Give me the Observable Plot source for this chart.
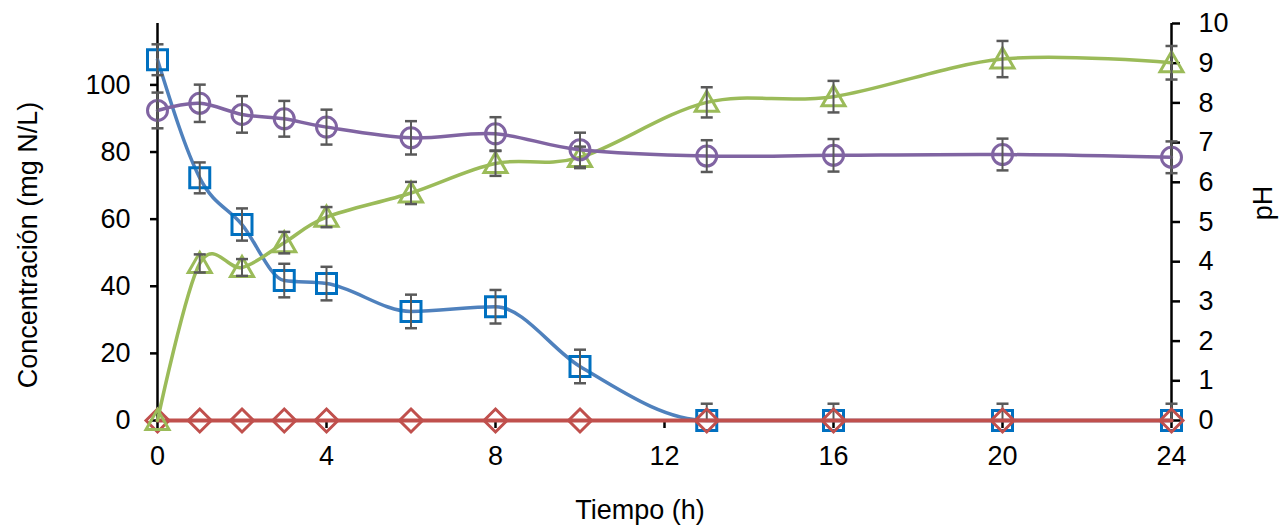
<!DOCTYPE html>
<html><head><meta charset="utf-8">
<script src="https://cdn.jsdelivr.net/npm/d3@7"></script>
<script src="https://cdn.jsdelivr.net/npm/@observablehq/plot@0.6"></script>
<style>body{margin:0;background:#fff}</style>
</head><body><div id="chart"></div>
<script>
// Time (h)
const hours = [0, 1, 2, 3, 4, 6, 8, 10, 13, 16, 20, 24];
// Blue squares (mg N/L)
const blueValues = [107.5, 72.3, 58.4, 41.7, 40.8, 32.5, 33.9, 16.1, 0, 0, 0, 0];
const blueErrors = [4.6, 4.6, 4.8, 5, 5, 5, 5, 5, 5, 5, 5, 5];
// Green triangles (mg N/L)
const greenValues = [0, 46.8, 45.6, 53, 60.6, 67.8, 76.6, 78.4, 94.8, 96.5, 107.7, 106.6];
const greenErrors = [0, 2.7, 2.5, 3.2, 3, 3.3, 3.7, 3.2, 4.5, 4.7, 5.4, 5];
// Red diamonds (mg N/L)
const redValues = [0, 0, 0, 0, 0, 0, 0, 0, 0, 0, 0, 0];
// Purple circles (pH, right axis)
const phValues = [7.81, 7.99, 7.71, 7.60, 7.39, 7.12, 7.22, 6.82, 6.66, 6.68, 6.70, 6.63];
const phErrors = [0.45, 0.47, 0.46, 0.45, 0.44, 0.42, 0.42, 0.43, 0.40, 0.41, 0.40, 0.40];

const xTicks = [0, 4, 8, 12, 16, 20, 24];
const yTicks = [0, 20, 40, 60, 80, 100];
const phTicks = [0, 1, 2, 3, 4, 5, 6, 7, 8, 9, 10];

const yMax = 118.3;      // left axis top
const phMax = 10;        // right axis top
const k = yMax / phMax;  // pH -> left-scale factor

function rows(values, errs, scale) {
  return hours.map((h, i) => ({
    h,
    v: values[i] * scale,
    lo: Math.max(0, (values[i] - (errs ? errs[i] : 0)) * scale),
    hi: (values[i] + (errs ? errs[i] : 0)) * scale,
    e: errs ? errs[i] : 0
  }));
}
const blue = rows(blueValues, blueErrors, 1);
const green = rows(greenValues, greenErrors, 1);
const red = rows(redValues, null, 1);
const purple = rows(phValues, phErrors, k);

// marker shapes
const sq = {draw(c){c.moveTo(-10,-10);c.lineTo(10,-10);c.lineTo(10,10);c.lineTo(-10,10);c.closePath();}};
const dia = {draw(c){c.moveTo(0,-11.5);c.lineTo(11.5,0);c.lineTo(0,11.5);c.lineTo(-11.5,0);c.closePath();}};
const tri = {draw(c){c.moveTo(0,-11);c.lineTo(11.5,9);c.lineTo(-11.5,9);c.closePath();}};
const circ = {draw(c){c.moveTo(10,0);c.arc(0,0,10,0,2*Math.PI);c.closePath();}};
const cap = {draw(c){c.moveTo(-6,0);c.lineTo(6,0);}};

const errColor = "#595959";
function errorBars(data) {
  const d = data.filter(r => r.e > 0);
  return [
    Plot.ruleX(d, {x: "h", y1: "lo", y2: "hi", stroke: errColor, strokeWidth: 2}),
    Plot.dot(d, {x: "h", y: "hi", symbol: cap, stroke: errColor, strokeWidth: 2.5}),
    Plot.dot(d.filter(r => r.lo > 0), {x: "h", y: "lo", symbol: cap, stroke: errColor, strokeWidth: 2.5})
  ];
}
function series(data, lineColor, markColor, symbol, withErr, lw, curve) {
  return [
    Plot.line(data, {x: "h", y: "v", stroke: lineColor, strokeWidth: lw, curve}),
    Plot.dot(data, {x: "h", y: "v", symbol, stroke: markColor, strokeWidth: 3, fill: "none"}),
    ...(withErr ? errorBars(data) : [])
  ];
}

const chart = Plot.plot({
  width: 1283,
  height: 527,
  marginLeft: 157,
  marginRight: 112,
  marginTop: 23,
  marginBottom: 107,
  style: {fontFamily: "'Liberation Sans', Arial, sans-serif", fontSize: "27px", color: "black", background: "white"},
  x: {domain: [0, 24]},
  y: {domain: [0, yMax]},
  marks: [
    Plot.ruleX([0, 24], {stroke: "black", strokeWidth: 2.5}),
    Plot.ruleY([0], {stroke: "black", strokeWidth: 2.5}),
    Plot.axisX({ticks: xTicks, tickSize: 8, tickPadding: 17, label: null, stroke: "black", strokeWidth: 2.5, fill: "black"}),
    Plot.axisY({ticks: yTicks, tickSize: 7, tickPadding: 20, label: null, stroke: "black", strokeWidth: 2.5, fill: "black"}),
    Plot.axisY({anchor: "right", ticks: phTicks.map(p => p * k), tickFormat: d => String(Math.round(d / k)), tickSize: 8, tickPadding: 19, label: null, stroke: "black", strokeWidth: 2.5, fill: "black"}),
    ...series(blue, "#4f81bd", "#0070c0", sq, true, 3.5, "monotone-x"),
    ...series(red, "#c0504d", "#c0504d", dia, false, 4, "linear"),
    ...series(green, "#9bbb59", "#9bbb59", tri, true, 3.5, "cardinal"),
    ...series(purple, "#8064a2", "#8064a2", circ, true, 3.5, "cardinal")
  ]
});

const svg = d3.select(chart);
svg.append("text")
  .attr("transform", "translate(37,245) rotate(-90)")
  .attr("text-anchor", "middle")
  .attr("fill", "black")
  .style("font-size", "27px")
  .text("Concentración (mg N/L)");
svg.append("text")
  .attr("transform", "translate(1272,203) rotate(-90)")
  .attr("text-anchor", "middle")
  .attr("fill", "black")
  .style("font-size", "27px")
  .text("pH");
svg.append("text")
  .attr("x", 640)
  .attr("y", 519)
  .attr("text-anchor", "middle")
  .attr("fill", "black")
  .style("font-size", "27px")
  .text("Tiempo (h)");

document.getElementById("chart").appendChild(chart);
</script>
</body></html>
